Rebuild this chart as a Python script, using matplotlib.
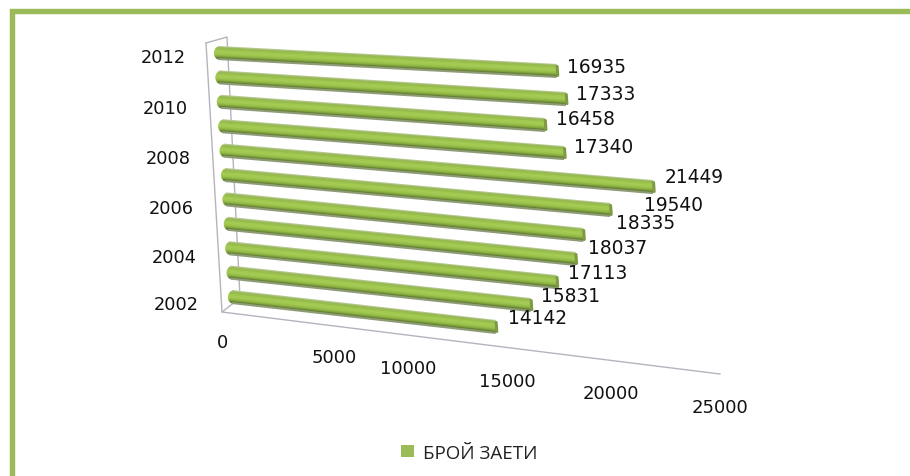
import math
import matplotlib
matplotlib.use("Agg")
import matplotlib.pyplot as plt
from matplotlib.patches import Rectangle

years = [2002, 2003, 2004, 2005, 2006, 2007, 2008, 2009, 2010, 2011, 2012]
values = [14142, 15831, 17113, 18037, 18335, 19540, 21449, 17340, 16458, 17333, 16935]
series_name = "БРОЙ ЗАЕТИ"
year_labels = ["2002", "2004", "2006", "2008", "2010", "2012"]
value_ticks = ["0", "5000", "10000", "15000", "20000", "25000"]

# layout (pixels)
year_label_px = [(176, 305), (174, 258), (171, 209), (168, 159), (165, 109), (163, 58)]
value_tick_px = [(222, 343), (334, 358), (408, 369), (507, 382), (611, 394), (720, 408)]
row_sx = [.01902, .01929, .01944, .01957, .01975, .01998, .02027, .02002, .02001, .02029, .02031]
row_sy = [.00212, .00205, .00198, .00195, .00194, .00179, .0017, .00155, .00141, .00125, .00106]
label_dx = [11, 9, 10, 11, 31, 33, 10, 9, 10, 9, 9]
label_dy = [-9, -10, -10, -11, -12, -5, -11, -7, -7, -6, -4]

GREEN = "#9BBB59"
RADIUS = 6.6
BANDS = [(-6.0, "#b5c98f"), (-5.0, "#9ab85a"), (-3.8, "#97bd4b"), (-2.4, "#a0c84f"), (-1.0, "#a4cc54"),
         (0.4, "#a0c850"), (1.8, "#98bf4a"), (3.0, "#8cb243"), (4.0, "#7d9f3b"), (5.0, "#667f33"), (6.0, "#8d9c76")]


def project(v, i):
    """Mapping from (value, row) to pixels, following the chart's tilted 3D floor."""
    t = i / 10
    return 228 - 14 * t + row_sx[i] * v, 298 - 244 * t + row_sy[i] * v


fig = plt.figure(figsize=(9.10, 4.77), dpi=100, facecolor="white")
ax = fig.add_axes([0, 0, 1, 1])
ax.set_xlim(0, 910)
ax.set_ylim(477, 0)
ax.axis("off")

# outer frame
ax.plot([11.7, 11.7, 910], [477, 11.7, 11.7], color=GREEN, lw=3.9, solid_joinstyle="miter", zorder=1)

# 3D walls
wall = dict(color="#b4b4bf", lw=1.0, zorder=2)
ax.plot([206, 222, 720], [44, 313, 375], **wall)
ax.plot([206, 227, 240, 222], [44, 38, 299, 313], **wall)

# cylinders
for i in range(len(years) - 1, -1, -1):
    x0, y0 = project(0, i)
    x1, y1 = project(values[i], i)
    for off, col in BANDS:
        inset = RADIUS - math.sqrt(max(RADIUS ** 2 - off ** 2, 0))
        ax.plot([x0 + inset, x1 - inset * 0.35], [y0 + off, y1 + off], color=col, lw=1.5,
                solid_capstyle="butt", zorder=3)
    ax.plot([x1 - 0.8, x1 - 0.2], [y1 - 4.5, y1 + 4.5], color="#7e9a45", lw=2.2, solid_capstyle="round", zorder=3.5)
    ax.text(x1 + label_dx[i], y1 + label_dy[i], str(values[i]), fontsize=13.4, family="DejaVu Sans",
            color="#111111", ha="left", va="center", zorder=5)

for lab, (x, y) in zip(year_labels, year_label_px):
    ax.text(x, y, lab, fontsize=12.8, family="DejaVu Sans", color="#111111", ha="center", va="center")
for lab, (x, y) in zip(value_ticks, value_tick_px):
    ax.text(x, y, lab, fontsize=13, family="DejaVu Sans", color="#111111", ha="center", va="center")

# legend
ax.add_patch(Rectangle((401, 446), 13, 12, facecolor=GREEN, edgecolor="none"))
ax.text(423, 454.5, series_name, fontsize=13.5, family="Open Sans", color="#222222", ha="left", va="center")

fig.savefig("out.png", dpi=100)
